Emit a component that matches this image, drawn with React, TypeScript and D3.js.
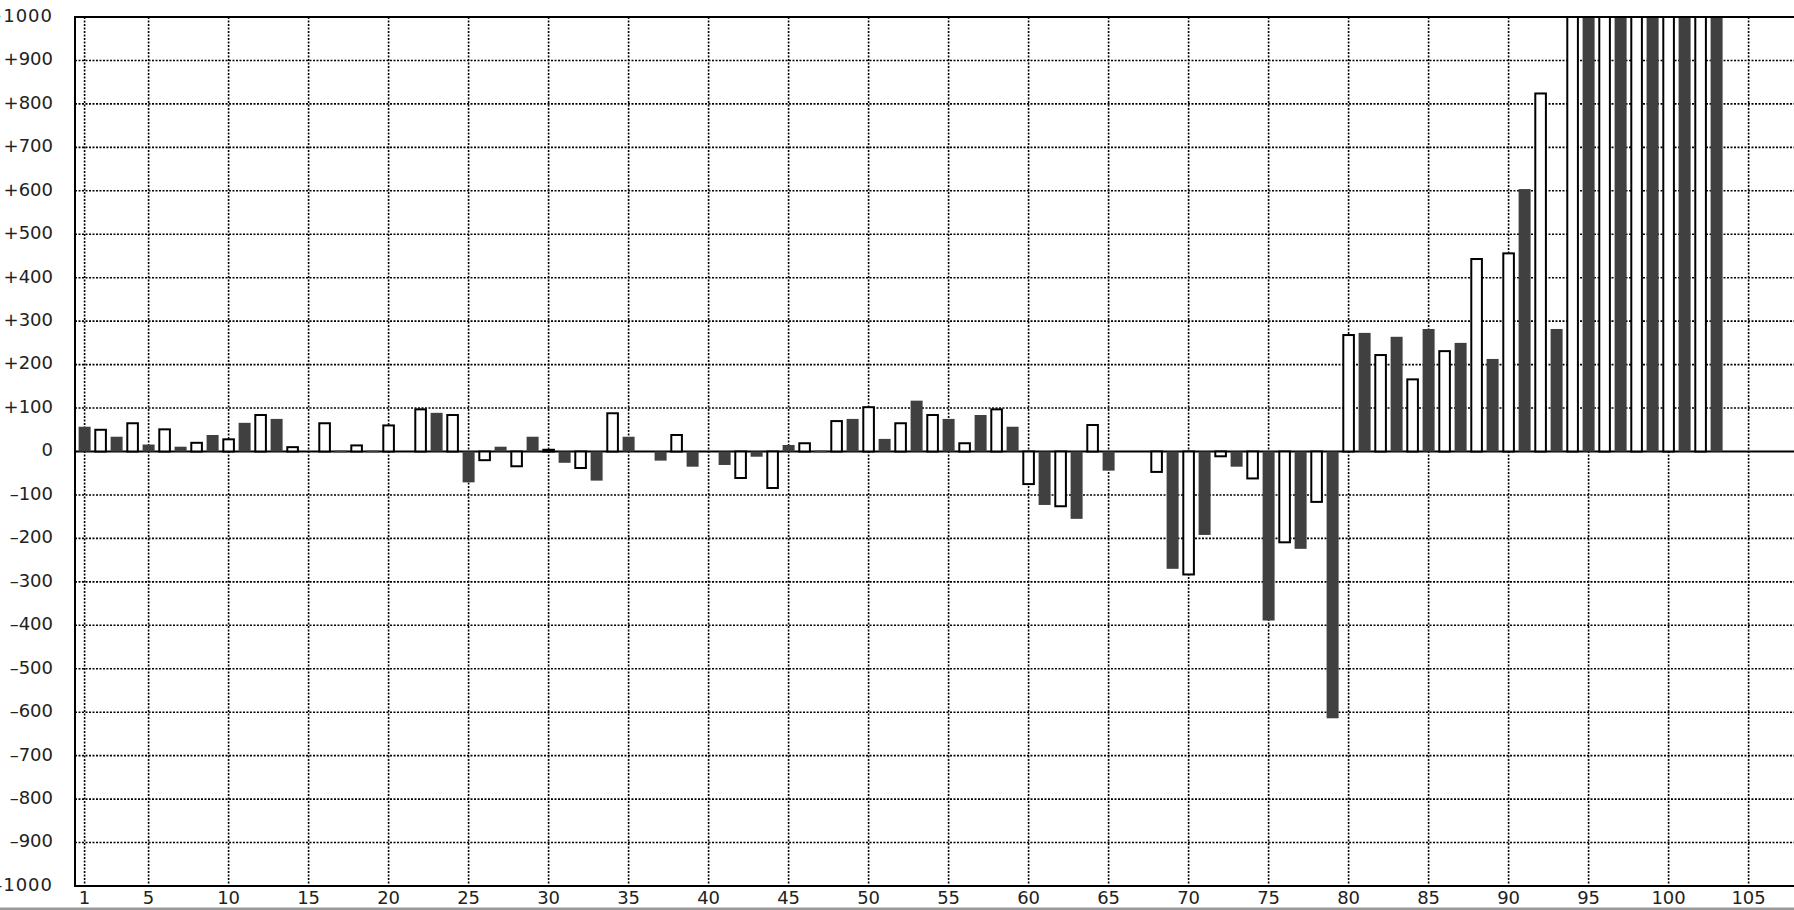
import React from 'react';
import * as d3 from 'd3';

// dark bars: odd categories 1, 3, ..., 103 (null = no bar)
const oddCategories = d3.range(1, 104, 2);
const oddValues: (number | null)[] = [
  57, 34, 16, 11, 38, 66, 75, null, 0, 0,
  null, 89, -71, 11, 34, -26, -67, 34, -21, -35,
  -31, -12, 15, 0, 75, 29, 117, 75, 84, 57,
  -123, -155, -44, null, -270, -192, -35, -389, -224, -614,
  273, 264, 282, 250, 213, 604, 282, 1260, 1510, 1800,
  2100, 2500,
];

// white bars: even categories 2, 4, ..., 102
const evenCategories = d3.range(2, 103, 2);
const evenValues: (number | null)[] = [
  50, 65, 51, 20, 28, 84, 10, 65, 14, 60,
  97, 84, -20, -34, 4, -38, 88, null, 38, null,
  -61, -84, 19, 70, 102, 65, 84, 19, 97, -75,
  -126, 61, null, -47, -283, -11, -62, -209, -116, 268,
  222, 166, 231, 443, 456, 824, 1120, 1380, 1650, 1950,
  2300,
];

const xTicks = [1, 5, 10, 15, 20, 25, 30, 35, 40, 45, 50, 55, 60, 65, 70, 75, 80, 85, 90, 95, 100, 105];
const yTicks = [1000, 900, 800, 700, 600, 500, 400, 300, 200, 100, 0, -100, -200, -300, -400, -500, -600, -700, -800, -900, -1000];

const W = 1794;
const H = 910;
const left = 75;
const top = 17;
const bottom = 886;
const right = 1830;

const fmt = (v: number) => (v > 0 ? `+${v}` : v < 0 ? `\u2013${-v}` : '0');

const App: React.FC = () => {
  const x = d3.scaleLinear().domain([0.4, 110]).range([left, left + 109.6 * 16]);
  const y = d3.scaleLinear().domain([-1000, 1000]).range([bottom, top]);
  const barW = (x(1) - x(0)) * 0.75;
  const y0 = y(0);
  const font = "'DejaVu Sans', Verdana, sans-serif";

  const bars = (cats: number[], vals: (number | null)[], dark: boolean) =>
    cats.map((c, i) => {
      const v = vals[i];
      if (v === null || v === undefined) return null;
      const yv = y(v);
      if (dark) {
        const h = Math.abs(yv - y0);
        return (
          <rect key={`d${c}`} x={x(c) - barW / 2} width={barW}
            y={v === 0 ? y0 - 1 : Math.min(yv, y0)} height={v === 0 ? 2 : h} fill="#404040" />
        );
      }
      return (
        <rect key={`w${c}`} x={x(c) - barW / 2 + 0.7} width={barW - 1.4}
          y={Math.min(yv, y0)} height={Math.abs(yv - y0)}
          fill="#fff" stroke="#000" strokeWidth={2} />
      );
    });

  return (
    <div style={{ position: 'absolute', left: 0, top: 0 }}>
      <svg width={W} height={H} style={{ display: 'block', background: '#fff' }}>
        <defs>
          <clipPath id="plot">
            <rect x={left} y={top} width={right - left} height={bottom - top} />
          </clipPath>
        </defs>

        {/* grid */}
        <g stroke="#000" strokeWidth={1.6} strokeDasharray="2 1.5">
          {yTicks.filter((t) => t !== 0 && Math.abs(t) !== 1000).map((t) => (
            <line key={`gy${t}`} x1={left} x2={right} y1={y(t)} y2={y(t)} />
          ))}
          {xTicks.map((t) => (
            <line key={`gx${t}`} x1={x(t)} x2={x(t)} y1={top} y2={bottom} />
          ))}
        </g>

        {/* zero line */}
        <line x1={left} x2={right} y1={y0} y2={y0} stroke="#000" strokeWidth={2} />

        <g clipPath="url(#plot)">
          {bars(evenCategories, evenValues, false)}
          {bars(oddCategories, oddValues, true)}
        </g>

        {/* frame */}
        <g stroke="#000" strokeWidth={2}>
          <line x1={left} x2={left} y1={top - 1} y2={bottom + 1} />
          <line x1={left - 1} x2={right} y1={top} y2={top} />
          <line x1={left - 1} x2={right} y1={bottom} y2={bottom} />
        </g>

        {/* y labels */}
        <g fontFamily={font} fontSize={18} fill="#222" textAnchor="end">
          {yTicks.map((t) => (
            <text key={`ly${t}`} x={53} y={y(t)} dy="0.27em"
              letterSpacing={Math.abs(t) === 1000 ? 1 : 0}>{fmt(t)}</text>
          ))}
        </g>

        {/* x labels */}
        <g fontFamily={font} fontSize={18} fill="#222" textAnchor="middle">
          {xTicks.map((t) => (
            <text key={`lx${t}`} x={x(t)} y={904}>{t}</text>
          ))}
        </g>

        <rect x={0} y={907.5} width={W} height={2.5} fill="#999" />
      </svg>
    </div>
  );
};

export default App;
